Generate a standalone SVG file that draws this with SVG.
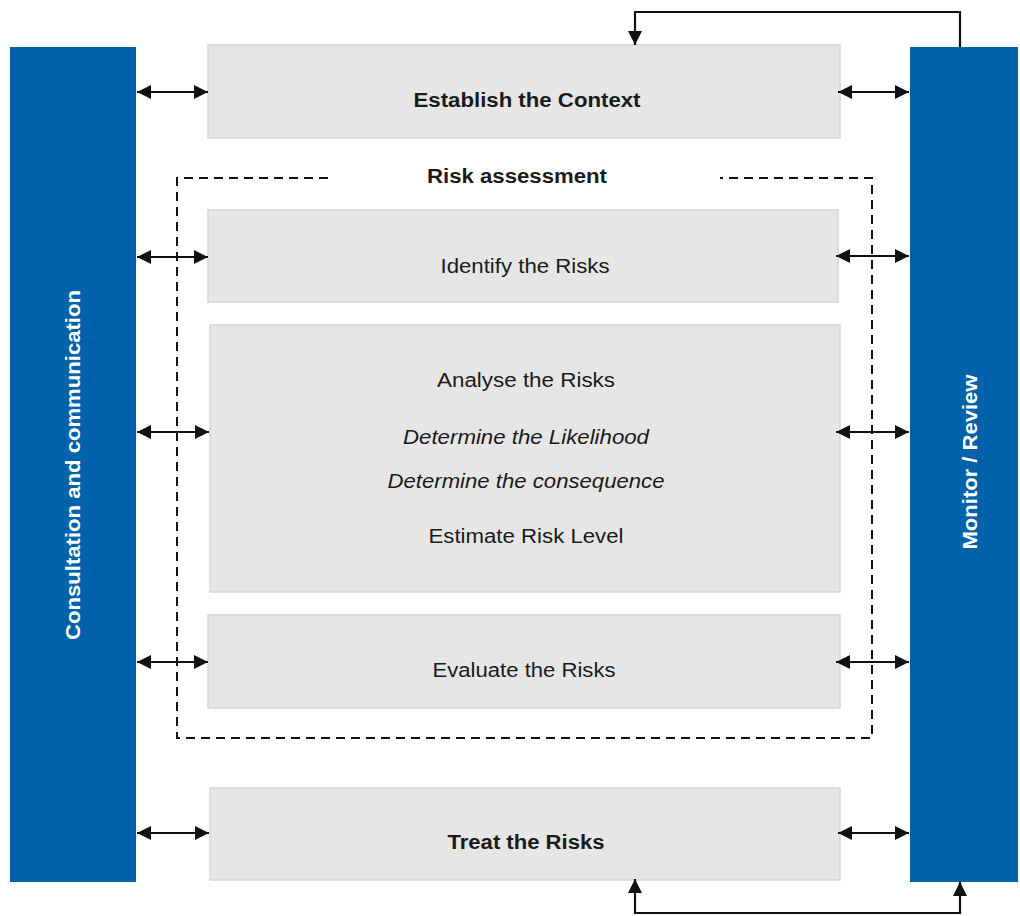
<svg xmlns="http://www.w3.org/2000/svg" width="1020" height="916" viewBox="0 0 1020 916">
<defs>
<marker id="ah" viewBox="0 0 14 14" refX="14" refY="7" markerWidth="14" markerHeight="14" markerUnits="userSpaceOnUse" orient="auto-start-reverse">
<path d="M0,0 L14,7 L0,14 Z" fill="#111"/>
</marker>
<style>
.box{fill:#e6e6e6;stroke:#d6d6d6;stroke-width:1.5}
.bar{fill:#0062aa}
.t{font-family:"Liberation Sans",Arial,sans-serif;font-size:20px;fill:#1a1a1a;text-anchor:middle}
.b{font-weight:bold}
.i{font-style:italic}
.w{fill:#ffffff;font-weight:bold}
.c{stroke:#111;stroke-width:2.2;fill:none}
.dash{stroke:#111;stroke-width:2;fill:none;stroke-dasharray:9 6}
</style>
</defs>
<rect width="1020" height="916" fill="#ffffff"/>
<g id="consultation">
<rect class="bar" x="10" y="47" width="126" height="835"/>
<text class="t w" transform="translate(80,465) rotate(-90)" textLength="350" lengthAdjust="spacingAndGlyphs">Consultation and communication</text>
</g>
<g id="monitor">
<rect class="bar" x="910" y="47" width="108" height="835"/>
<text class="t w" transform="translate(977,462) rotate(-90)" textLength="175" lengthAdjust="spacingAndGlyphs">Monitor / Review</text>
</g>
<g id="risk-assessment">
<path class="dash" d="M328,178 H177 V738 H872 V178 H720"/>
<text class="t b" x="517" y="183" textLength="180" lengthAdjust="spacingAndGlyphs">Risk assessment</text>
</g>
<g id="context">
<rect class="box" x="208" y="45" width="632" height="93"/>
<text class="t b" x="527" y="107" textLength="227" lengthAdjust="spacingAndGlyphs">Establish the Context</text>
</g>
<g id="identify">
<rect class="box" x="208" y="210" width="630" height="92"/>
<text class="t" x="525" y="273" textLength="169" lengthAdjust="spacingAndGlyphs">Identify the Risks</text>
</g>
<g id="analyse">
<rect class="box" x="210" y="325" width="630" height="267"/>
<text class="t" x="526" y="387" textLength="178" lengthAdjust="spacingAndGlyphs">Analyse the Risks</text>
<text class="t i" x="526" y="444" textLength="246" lengthAdjust="spacingAndGlyphs">Determine the Likelihood</text>
<text class="t i" x="526" y="488" textLength="277" lengthAdjust="spacingAndGlyphs">Determine the consequence</text>
<text class="t" x="526" y="543" textLength="195" lengthAdjust="spacingAndGlyphs">Estimate Risk Level</text>
</g>
<g id="evaluate">
<rect class="box" x="208" y="615" width="632" height="93"/>
<text class="t" x="524" y="677" textLength="183" lengthAdjust="spacingAndGlyphs">Evaluate the Risks</text>
</g>
<g id="treat">
<rect class="box" x="210" y="788" width="630" height="92"/>
<text class="t b" x="526" y="849" textLength="157" lengthAdjust="spacingAndGlyphs">Treat the Risks</text>
</g>
<g id="connectors">
<line class="c" x1="137" y1="92" x2="208" y2="92" marker-start="url(#ah)" marker-end="url(#ah)"/>
<line class="c" x1="137" y1="257" x2="208" y2="257" marker-start="url(#ah)" marker-end="url(#ah)"/>
<line class="c" x1="137" y1="432" x2="209" y2="432" marker-start="url(#ah)" marker-end="url(#ah)"/>
<line class="c" x1="137" y1="662" x2="208" y2="662" marker-start="url(#ah)" marker-end="url(#ah)"/>
<line class="c" x1="137" y1="833" x2="209" y2="833" marker-start="url(#ah)" marker-end="url(#ah)"/>
<line class="c" x1="838" y1="92" x2="909" y2="92" marker-start="url(#ah)" marker-end="url(#ah)"/>
<line class="c" x1="836" y1="256" x2="909" y2="256" marker-start="url(#ah)" marker-end="url(#ah)"/>
<line class="c" x1="836" y1="432" x2="909" y2="432" marker-start="url(#ah)" marker-end="url(#ah)"/>
<line class="c" x1="836" y1="662" x2="909" y2="662" marker-start="url(#ah)" marker-end="url(#ah)"/>
<line class="c" x1="838" y1="833" x2="909" y2="833" marker-start="url(#ah)" marker-end="url(#ah)"/>
<path class="c" d="M960,47 V12 H635 V45" marker-end="url(#ah)"/>
<path class="c" d="M960,882 V913 H635 V879" marker-start="url(#ah)" marker-end="url(#ah)"/>
</g>
</svg>
